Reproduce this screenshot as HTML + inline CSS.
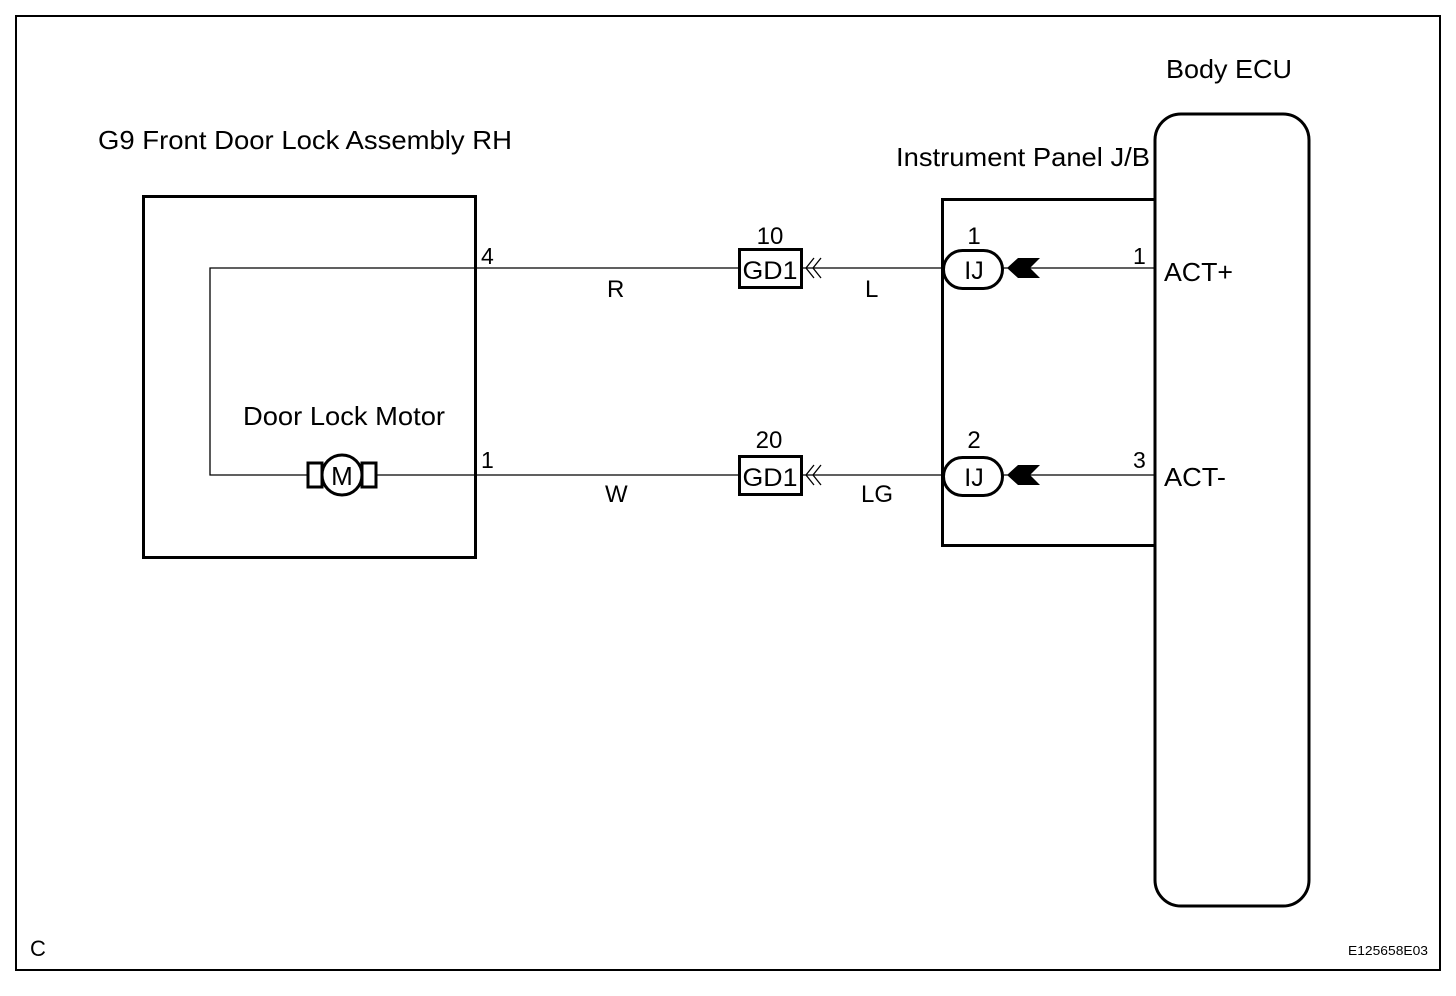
<!DOCTYPE html>
<html><head><meta charset="utf-8"><style>
body{margin:0;background:#fff}
svg{display:block}
text{font-family:"Liberation Sans",sans-serif;fill:#000}
</style></head><body>
<svg width="1456" height="996" viewBox="0 0 1456 996" xmlns="http://www.w3.org/2000/svg">
<rect x="16" y="16" width="1424" height="954" fill="none" stroke="#000" stroke-width="2"/>
<text x="1166" y="78" font-size="26" textLength="126" lengthAdjust="spacingAndGlyphs">Body ECU</text>
<text x="98" y="149" font-size="26" textLength="414" lengthAdjust="spacingAndGlyphs">G9 Front Door Lock Assembly RH</text>
<text x="896" y="166" font-size="26" textLength="254" lengthAdjust="spacingAndGlyphs">Instrument Panel J/B</text>
<rect x="143.5" y="196.5" width="332" height="361" fill="none" stroke="#000" stroke-width="3"/>
<path d="M1155 199.5H942.5V545.5H1155" fill="none" stroke="#000" stroke-width="3"/>
<rect x="1155" y="114" width="154" height="792" rx="26" fill="#fff" stroke="#000" stroke-width="3"/>
<path d="M476 268H210V475H307" fill="none" stroke="#000" stroke-width="1.3"/>
<path d="M377 475H476" fill="none" stroke="#000" stroke-width="1.3"/>
<path d="M476 268H738M802 268H942M1003 268H1155" fill="none" stroke="#000" stroke-width="1.3"/>
<path d="M476 475H738M802 475H942M1003 475H1155" fill="none" stroke="#000" stroke-width="1.3"/>
<rect x="308" y="463" width="14" height="24" fill="#fff" stroke="#000" stroke-width="3"/>
<rect x="362" y="463" width="14" height="24" fill="#fff" stroke="#000" stroke-width="3"/>
<circle cx="342" cy="475" r="20" fill="#fff" stroke="#000" stroke-width="3"/>
<text x="342" y="485" font-size="26" text-anchor="middle">M</text>
<text x="243" y="425" font-size="26" textLength="202" lengthAdjust="spacingAndGlyphs">Door Lock Motor</text>
<text x="481" y="264" font-size="23">4</text>
<text x="481" y="468" font-size="23">1</text>
<text x="607" y="297" font-size="24">R</text>
<text x="605" y="502" font-size="24">W</text>
<text x="865" y="297" font-size="24">L</text>
<text x="861" y="502" font-size="24">LG</text>
<g id="gd">
<rect x="739.5" y="249.5" width="62" height="38" fill="#fff" stroke="#000" stroke-width="3"/>
<text x="770" y="279" font-size="25" text-anchor="middle" textLength="55" lengthAdjust="spacingAndGlyphs">GD1</text>
<path d="M814 258L806 268L814 278M821 258L813 268L821 278" fill="none" stroke="#000" stroke-width="1.3"/>
</g>
<use href="#gd" y="207"/>
<text x="770" y="244" font-size="24" text-anchor="middle">10</text>
<text x="769" y="448" font-size="24" text-anchor="middle">20</text>
<g id="ij">
<rect x="943.5" y="250.5" width="59" height="38" rx="19" fill="#fff" stroke="#000" stroke-width="3"/>
<text x="974" y="279" font-size="25" text-anchor="middle">IJ</text>
<path d="M1007 268L1018 258H1040L1030 268L1040 278H1018Z" fill="#000"/>
</g>
<use href="#ij" y="207"/>
<text x="974" y="244" font-size="24" text-anchor="middle">1</text>
<text x="974" y="448" font-size="24" text-anchor="middle">2</text>
<text x="1133" y="264" font-size="23">1</text>
<text x="1133" y="468" font-size="23">3</text>
<text x="1164" y="281" font-size="26" textLength="69" lengthAdjust="spacingAndGlyphs">ACT+</text>
<text x="1164" y="486" font-size="26" textLength="62" lengthAdjust="spacingAndGlyphs">ACT-</text>
<text x="30" y="956" font-size="22">C</text>
<text x="1348" y="955" font-size="13" textLength="80" lengthAdjust="spacingAndGlyphs">E125658E03</text>
</svg>
</body></html>
